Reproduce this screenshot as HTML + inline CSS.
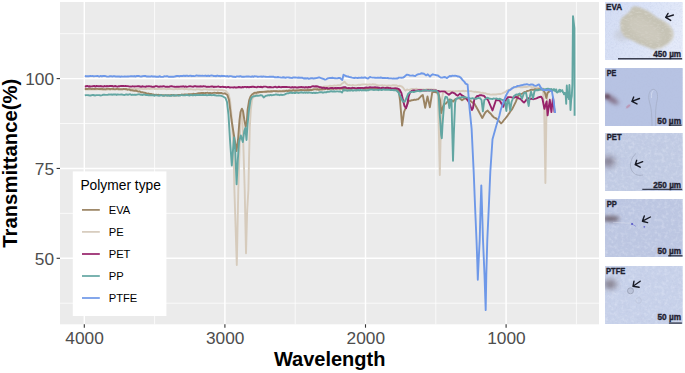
<!DOCTYPE html>
<html><head><meta charset="utf-8"><title>FTIR spectra</title>
<style>
html,body{margin:0;padding:0;background:#fff;width:685px;height:373px;overflow:hidden;}
svg{display:block;position:absolute;left:0;top:0;}
text{font-family:"Liberation Sans",sans-serif;}
.tk{font-size:17.3px;fill:#4d4d4d;}
.ti{font-size:20px;font-weight:bold;fill:#000;}
.lt{font-size:13.8px;fill:#000;}
.li{font-size:11.2px;fill:#000;}
.mic{position:absolute;left:605px;width:77.7px;height:58px;overflow:hidden;}
</style></head><body>
<svg width="685" height="373" viewBox="0 0 685 373">
<rect x="60" y="2" width="539" height="322.3" fill="#ebebeb"/>
<line x1="154.6" y1="2" x2="154.6" y2="324.3" stroke="#fff" stroke-width="0.75"/><line x1="295.2" y1="2" x2="295.2" y2="324.3" stroke="#fff" stroke-width="0.75"/><line x1="435.8" y1="2" x2="435.8" y2="324.3" stroke="#fff" stroke-width="0.75"/><line x1="576.4" y1="2" x2="576.4" y2="324.3" stroke="#fff" stroke-width="0.75"/><line x1="60" y1="33.7" x2="599" y2="33.7" stroke="#fff" stroke-width="0.75"/><line x1="60" y1="123.5" x2="599" y2="123.5" stroke="#fff" stroke-width="0.75"/><line x1="60" y1="213.35" x2="599" y2="213.35" stroke="#fff" stroke-width="0.75"/><line x1="60" y1="303.2" x2="599" y2="303.2" stroke="#fff" stroke-width="0.75"/><line x1="84.3" y1="2" x2="84.3" y2="324.3" stroke="#fff" stroke-width="1.45"/><line x1="224.9" y1="2" x2="224.9" y2="324.3" stroke="#fff" stroke-width="1.45"/><line x1="365.5" y1="2" x2="365.5" y2="324.3" stroke="#fff" stroke-width="1.45"/><line x1="506.1" y1="2" x2="506.1" y2="324.3" stroke="#fff" stroke-width="1.45"/><line x1="60" y1="78.6" x2="599" y2="78.6" stroke="#fff" stroke-width="1.45"/><line x1="60" y1="168.45" x2="599" y2="168.45" stroke="#fff" stroke-width="1.45"/><line x1="60" y1="258.3" x2="599" y2="258.3" stroke="#fff" stroke-width="1.45"/>
<g fill="none" stroke-width="1.9" stroke-linejoin="round" stroke-linecap="butt">
<path d="M84.80,89.60 L85.97,89.47 L87.14,89.33 L88.31,89.71 L89.48,89.28 L90.65,89.63 L91.82,89.50 L92.98,89.26 L94.15,89.61 L95.32,89.25 L96.49,89.55 L97.66,89.27 L98.83,89.29 L100.00,89.60 L101.11,89.53 L102.22,89.82 L103.33,89.26 L104.44,89.32 L105.56,89.61 L106.67,89.84 L107.78,89.54 L108.89,89.39 L110.00,89.81 L111.11,89.09 L112.22,89.69 L113.33,89.24 L114.44,89.11 L115.56,89.08 L116.67,89.20 L117.78,89.57 L118.89,89.07 L120.00,89.30 L121.15,89.32 L122.31,89.33 L123.46,89.09 L124.62,89.18 L125.77,88.78 L126.92,88.73 L128.08,88.81 L129.23,89.13 L130.38,88.90 L131.54,88.77 L132.69,88.94 L133.85,88.80 L135.00,88.80 L136.14,88.65 L137.27,89.02 L138.41,88.95 L139.55,88.61 L140.68,88.86 L141.82,88.82 L142.95,89.09 L144.09,88.97 L145.23,88.64 L146.36,89.16 L147.50,88.51 L148.64,88.74 L149.77,89.00 L150.91,88.54 L152.05,88.79 L153.18,88.45 L154.32,88.93 L155.45,89.00 L156.59,88.86 L157.73,89.09 L158.86,88.66 L160.00,88.80 L161.11,88.97 L162.22,88.91 L163.33,88.92 L164.44,88.84 L165.56,89.16 L166.67,89.25 L167.78,88.92 L168.89,89.08 L170.00,88.64 L171.11,89.15 L172.22,89.13 L173.33,89.41 L174.44,89.30 L175.56,88.91 L176.67,89.00 L177.78,89.24 L178.89,88.77 L180.00,89.12 L181.11,88.92 L182.22,88.90 L183.33,88.87 L184.44,89.43 L185.56,88.97 L186.67,89.07 L187.78,89.20 L188.89,89.59 L190.00,89.01 L191.11,89.31 L192.22,89.40 L193.33,89.67 L194.44,89.65 L195.56,89.70 L196.67,89.27 L197.78,89.40 L198.89,89.37 L200.00,89.50 L201.15,89.82 L202.31,89.89 L203.46,89.30 L204.62,89.35 L205.77,89.41 L206.92,89.44 L208.08,89.65 L209.23,89.75 L210.38,89.53 L211.54,89.35 L212.69,89.69 L213.85,89.68 L215.00,89.80 L216.17,89.88 L217.33,90.21 L218.50,90.04 L219.67,89.95 L220.83,90.06 L222.00,90.00 L223.33,90.47 L224.67,90.33 L226.00,91.00 L227.25,92.80 L228.50,94.00 L230.00,100.00 L232.00,120.00 L233.50,150.00 L234.40,190.00 L236.80,265.00 L238.30,190.00 L239.50,150.00 L240.50,120.00 L241.50,110.00 L242.50,120.00 L243.50,150.00 L244.70,190.00 L246.00,253.20 L247.20,210.00 L248.40,190.00 L249.00,160.00 L249.80,127.00 L250.80,110.00 L252.00,100.00 L254.00,95.00 L255.33,94.55 L256.67,93.95 L258.00,93.00 L259.33,92.79 L260.67,92.05 L262.00,91.70 L263.14,91.59 L264.29,91.34 L265.43,91.72 L266.57,91.25 L267.71,91.23 L268.86,91.31 L270.00,91.50 L271.11,91.19 L272.22,91.27 L273.33,90.99 L274.44,90.90 L275.56,90.96 L276.67,90.86 L277.78,91.01 L278.89,90.69 L280.00,91.00 L281.11,91.20 L282.22,90.91 L283.33,90.47 L284.44,90.46 L285.56,90.44 L286.67,90.36 L287.78,90.09 L288.89,90.55 L290.00,90.20 L291.11,90.53 L292.22,90.09 L293.33,90.05 L294.44,89.71 L295.56,89.68 L296.67,89.81 L297.78,89.71 L298.89,90.09 L300.00,89.80 L301.11,89.49 L302.22,89.33 L303.33,89.98 L304.44,89.60 L305.56,89.25 L306.67,89.50 L307.78,89.05 L308.89,89.38 L310.00,89.30 L311.11,89.52 L312.22,89.29 L313.33,89.02 L314.44,88.54 L315.56,88.48 L316.67,88.18 L317.78,88.50 L318.89,88.17 L320.00,88.00 L321.25,87.84 L322.50,87.12 L323.75,86.66 L325.00,86.50 L326.25,86.54 L327.50,86.47 L328.75,86.17 L330.00,85.70 L331.11,85.91 L332.22,85.90 L333.33,85.82 L334.44,85.40 L335.56,85.60 L336.67,85.46 L337.78,85.19 L338.89,85.16 L340.00,85.50 L341.50,84.08 L343.00,83.00 L344.50,81.70 L346.00,83.50 L348.00,85.00 L349.20,84.82 L350.40,85.15 L351.60,85.35 L352.80,84.96 L354.00,85.33 L355.20,85.37 L356.40,85.35 L357.60,84.90 L358.80,84.79 L360.00,85.00 L361.25,84.64 L362.50,84.47 L363.75,84.33 L365.00,84.40 L366.11,84.49 L367.22,84.70 L368.33,84.66 L369.44,84.38 L370.56,84.52 L371.67,84.63 L372.78,84.08 L373.89,84.52 L375.00,84.40 L376.25,84.96 L377.50,85.11 L378.75,85.34 L380.00,85.40 L381.15,85.39 L382.31,85.17 L383.46,85.64 L384.62,85.30 L385.77,85.67 L386.92,85.80 L388.08,85.37 L389.23,85.39 L390.38,85.81 L391.54,85.65 L392.69,85.23 L393.85,85.21 L395.00,85.50 L396.25,85.31 L397.50,85.96 L398.75,85.96 L400.00,85.80 L401.50,86.38 L403.00,87.50 L404.20,89.35 L405.40,90.70 L407.00,89.50 L408.00,89.90 L409.33,89.93 L410.67,89.35 L412.00,88.90 L413.14,88.86 L414.29,89.08 L415.43,88.83 L416.57,88.82 L417.71,89.62 L418.86,89.44 L420.00,89.40 L421.11,89.42 L422.22,89.73 L423.33,89.35 L424.44,89.68 L425.56,89.65 L426.67,89.18 L427.78,89.21 L428.89,89.24 L430.00,89.40 L431.20,89.28 L432.40,89.63 L433.60,89.46 L434.80,89.66 L436.00,89.80 L437.80,95.00 L438.80,130.00 L439.80,175.00 L440.80,130.00 L441.80,100.00 L443.00,93.00 L445.00,91.30 L446.15,91.01 L447.31,91.60 L448.46,91.17 L449.62,91.24 L450.77,91.32 L451.92,91.56 L453.08,91.19 L454.23,91.56 L455.38,91.23 L456.54,91.25 L457.69,91.23 L458.85,90.84 L460.00,91.20 L461.11,91.14 L462.22,90.94 L463.33,90.79 L464.44,91.38 L465.56,90.90 L466.67,91.11 L467.78,91.29 L468.89,91.15 L470.00,91.10 L471.11,91.12 L472.22,91.43 L473.33,91.61 L474.44,91.94 L475.56,91.58 L476.67,92.08 L477.78,92.00 L478.89,92.17 L480.00,92.50 L481.25,92.86 L482.50,92.81 L483.75,93.00 L485.00,93.10 L486.25,93.65 L487.50,94.11 L488.75,94.11 L490.00,94.50 L491.25,94.59 L492.50,94.50 L493.75,94.51 L495.00,94.50 L496.17,94.48 L497.33,94.13 L498.50,94.03 L499.67,93.82 L500.83,94.00 L502.00,93.50 L503.20,92.99 L504.40,92.47 L505.60,91.86 L506.80,90.68 L508.00,90.20 L509.17,89.76 L510.33,89.57 L511.50,89.01 L512.67,87.99 L513.83,87.50 L515.00,87.30 L516.11,87.22 L517.22,86.91 L518.33,87.00 L519.44,86.84 L520.56,87.26 L521.67,87.32 L522.78,87.37 L523.89,86.77 L525.00,87.00 L526.25,87.01 L527.50,86.82 L528.75,86.28 L530.00,86.40 L531.25,86.97 L532.50,87.31 L533.75,87.01 L535.00,87.50 L536.25,87.92 L537.50,87.57 L538.75,87.72 L540.00,87.80 L541.50,88.52 L543.00,88.50 L544.20,110.00 L545.40,183.10 L546.50,110.00 L547.50,92.00 L549.00,90.00 L550.33,90.59 L551.67,90.41 L553.00,91.00" stroke="#d6cbbc"/>
<path d="M84.80,89.00 L85.97,88.95 L87.14,89.01 L88.31,88.88 L89.48,88.77 L90.65,88.86 L91.82,89.17 L92.98,88.63 L94.15,89.04 L95.32,88.95 L96.49,88.63 L97.66,88.87 L98.83,89.09 L100.00,89.00 L101.11,89.01 L102.22,88.68 L103.33,89.39 L104.44,89.24 L105.56,89.39 L106.67,88.73 L107.78,88.86 L108.89,88.69 L110.00,89.26 L111.11,88.88 L112.22,88.78 L113.33,89.01 L114.44,89.38 L115.56,89.32 L116.67,88.90 L117.78,88.82 L118.89,89.41 L120.00,89.10 L121.25,89.18 L122.50,89.30 L123.75,88.86 L125.00,89.20 L126.12,89.03 L127.23,89.68 L128.35,89.64 L129.47,89.54 L130.58,90.37 L131.70,90.20 L133.02,90.50 L134.35,90.83 L135.68,90.48 L137.00,91.00 L138.30,91.60 L139.60,91.32 L140.90,92.25 L142.20,92.30 L143.47,92.55 L144.73,92.74 L146.00,93.19 L147.27,93.76 L148.53,93.54 L149.80,94.00 L151.10,93.97 L152.40,94.52 L153.70,94.55 L155.00,95.00 L156.25,94.75 L157.50,94.84 L158.75,94.81 L160.00,95.20 L161.11,95.00 L162.22,95.10 L163.33,95.12 L164.44,95.49 L165.56,95.15 L166.67,95.33 L167.78,95.11 L168.89,95.26 L170.00,95.40 L171.25,95.03 L172.50,95.21 L173.75,95.03 L175.00,95.40 L176.11,95.48 L177.22,95.24 L178.33,94.86 L179.44,94.98 L180.56,95.23 L181.67,94.50 L182.78,94.94 L183.89,94.55 L185.00,94.50 L186.15,94.40 L187.31,94.57 L188.46,94.14 L189.62,94.14 L190.77,94.18 L191.92,94.31 L193.08,93.73 L194.23,94.01 L195.38,93.83 L196.54,93.68 L197.69,93.41 L198.85,93.28 L200.00,93.30 L201.11,92.93 L202.22,92.95 L203.33,92.87 L204.44,93.35 L205.56,92.95 L206.67,92.84 L207.78,92.75 L208.89,93.29 L210.00,93.00 L211.11,93.28 L212.22,93.13 L213.33,92.83 L214.44,92.80 L215.56,92.84 L216.67,92.97 L217.78,92.74 L218.89,92.96 L220.00,93.00 L221.25,92.90 L222.50,93.50 L223.75,93.58 L225.00,93.30 L226.20,94.19 L227.40,95.00 L229.00,100.00 L231.50,120.00 L234.70,140.00 L236.50,151.00 L238.00,140.00 L239.50,120.00 L240.50,112.00 L241.90,108.70 L243.00,111.00 L244.40,120.00 L245.70,127.00 L246.80,122.00 L247.60,110.00 L249.20,100.00 L250.50,96.50 L252.00,94.50 L253.50,93.41 L255.00,92.70 L256.17,92.94 L257.33,92.32 L258.50,92.24 L259.67,91.85 L260.83,92.03 L262.00,92.00 L263.14,91.92 L264.29,91.89 L265.43,91.60 L266.57,91.78 L267.71,91.34 L268.86,91.48 L270.00,91.60 L271.11,91.25 L272.22,91.46 L273.33,91.15 L274.44,91.10 L275.56,91.28 L276.67,91.20 L277.78,91.43 L278.89,91.36 L280.00,91.30 L281.11,91.42 L282.22,91.29 L283.33,91.26 L284.44,91.32 L285.56,90.88 L286.67,90.77 L287.78,91.20 L288.89,90.50 L290.00,90.70 L291.11,90.81 L292.22,90.70 L293.33,90.19 L294.44,90.73 L295.56,90.72 L296.67,90.46 L297.78,90.49 L298.89,90.49 L300.00,90.20 L301.11,89.89 L302.22,90.15 L303.33,90.10 L304.44,90.32 L305.56,90.26 L306.67,90.25 L307.78,90.03 L308.89,90.23 L310.00,89.90 L311.11,89.99 L312.22,89.96 L313.33,89.56 L314.44,89.37 L315.56,89.40 L316.67,89.53 L317.78,89.29 L318.89,89.80 L320.00,89.50 L321.11,89.47 L322.22,89.44 L323.33,89.36 L324.44,89.33 L325.56,89.10 L326.67,88.66 L327.78,89.18 L328.89,89.07 L330.00,88.80 L331.11,88.79 L332.22,88.80 L333.33,88.89 L334.44,88.43 L335.56,88.92 L336.67,88.55 L337.78,88.40 L338.89,88.53 L340.00,88.87 L341.11,88.46 L342.22,88.86 L343.33,89.03 L344.44,88.65 L345.56,88.56 L346.67,88.62 L347.78,88.76 L348.89,88.81 L350.00,88.60 L351.11,88.69 L352.22,88.71 L353.33,88.28 L354.44,88.33 L355.56,88.41 L356.67,88.78 L357.78,88.45 L358.89,88.65 L360.00,88.23 L361.11,88.27 L362.22,88.42 L363.33,88.73 L364.44,88.75 L365.56,88.73 L366.67,88.44 L367.78,88.61 L368.89,88.57 L370.00,88.60 L371.11,88.59 L372.22,88.34 L373.33,88.95 L374.44,88.44 L375.56,89.05 L376.67,89.03 L377.78,88.35 L378.89,88.70 L380.00,88.99 L381.11,89.12 L382.22,88.74 L383.33,88.62 L384.44,88.60 L385.56,89.17 L386.67,88.63 L387.78,88.93 L388.89,88.61 L390.00,88.90 L391.20,89.04 L392.40,89.48 L393.60,88.98 L394.80,89.62 L396.00,89.50 L397.35,90.26 L398.70,91.00 L400.00,100.00 L401.00,112.00 L402.10,125.60 L403.20,118.00 L404.00,112.00 L406.00,107.20 L408.80,100.70 L410.40,100.74 L412.00,100.20 L413.22,100.15 L414.44,99.60 L415.66,99.90 L416.88,99.39 L418.10,99.20 L420.00,97.40 L421.40,95.84 L422.80,95.00 L425.20,107.70 L427.50,96.40 L429.90,107.20 L432.20,92.70 L433.60,91.97 L435.00,92.00 L436.17,92.33 L437.33,92.63 L438.50,93.00 L440.00,100.00 L441.20,113.00 L442.50,108.00 L444.00,104.00 L446.00,103.50 L448.00,101.00 L449.50,99.50 L451.00,99.80 L453.10,101.60 L455.00,99.50 L456.00,98.80 L457.50,98.40 L459.00,98.30 L460.50,98.98 L462.00,100.20 L463.50,99.13 L465.00,98.30 L466.25,98.71 L467.50,99.66 L468.75,99.57 L470.00,100.50 L471.43,101.72 L472.87,102.82 L474.30,103.60 L478.00,110.00 L482.30,118.00 L485.00,113.00 L486.35,111.46 L487.70,110.50 L488.80,111.99 L489.90,113.00 L491.00,114.00 L492.55,116.06 L494.10,117.50 L495.55,118.14 L497.00,119.10 L498.37,120.44 L499.73,121.89 L501.10,123.40 L502.55,122.08 L504.00,120.00 L505.50,118.27 L507.00,116.40 L508.32,114.42 L509.65,112.60 L510.97,110.60 L512.30,108.90 L516.00,101.40 L517.80,96.40 L518.90,95.36 L520.00,95.00 L521.17,93.90 L522.33,93.65 L523.50,92.60 L524.60,92.04 L525.70,92.13 L526.80,91.21 L527.90,90.82 L529.00,90.61 L530.10,90.20 L531.33,89.71 L532.55,89.60 L533.77,89.80 L535.00,89.20 L536.25,89.49 L537.50,89.44 L538.75,89.30 L540.00,89.20 L541.50,89.66 L543.00,89.50 L545.00,93.00 L546.30,98.00 L547.50,93.00 L548.75,92.08 L550.00,90.50 L551.50,90.79 L553.00,91.00" stroke="#9a8362"/>
<path d="M84.80,86.30 L85.97,86.46 L87.14,85.94 L88.31,86.45 L89.48,86.23 L90.65,86.45 L91.82,86.36 L92.98,86.08 L94.15,85.90 L95.32,86.56 L96.49,85.94 L97.66,86.19 L98.83,86.09 L100.00,86.20 L101.11,86.05 L102.22,86.38 L103.33,86.56 L104.44,86.02 L105.56,86.32 L106.67,86.05 L107.78,86.24 L108.89,86.12 L110.00,85.95 L111.11,85.94 L112.22,85.98 L113.33,86.51 L114.44,86.20 L115.56,85.99 L116.67,86.51 L117.78,86.58 L118.89,86.16 L120.00,86.20 L121.11,85.94 L122.22,86.00 L123.33,85.94 L124.44,86.15 L125.56,85.97 L126.67,86.10 L127.78,86.13 L128.89,86.39 L130.00,86.64 L131.11,86.56 L132.22,86.32 L133.33,86.33 L134.44,86.44 L135.56,86.34 L136.67,86.33 L137.78,86.13 L138.89,86.31 L140.00,86.50 L141.11,86.86 L142.22,86.22 L143.33,86.50 L144.44,86.60 L145.56,86.78 L146.67,86.28 L147.78,86.33 L148.89,86.31 L150.00,86.42 L151.11,86.46 L152.22,86.84 L153.33,86.76 L154.44,86.78 L155.56,86.14 L156.67,86.14 L157.78,86.66 L158.89,86.80 L160.00,86.50 L161.11,86.49 L162.22,86.58 L163.33,86.14 L164.44,86.44 L165.56,86.85 L166.67,86.78 L167.78,86.81 L168.89,86.90 L170.00,86.36 L171.11,86.26 L172.22,86.30 L173.33,86.58 L174.44,86.71 L175.56,86.91 L176.67,86.75 L177.78,86.70 L178.89,86.80 L180.00,86.60 L181.11,86.56 L182.22,86.63 L183.33,86.23 L184.44,86.79 L185.56,86.37 L186.67,86.89 L187.78,86.67 L188.89,86.41 L190.00,86.27 L191.11,86.36 L192.22,86.64 L193.33,86.68 L194.44,86.23 L195.56,86.20 L196.67,86.54 L197.78,86.57 L198.89,86.42 L200.00,86.50 L201.15,86.31 L202.31,86.61 L203.46,86.17 L204.62,86.41 L205.77,86.55 L206.92,86.94 L208.08,86.72 L209.23,86.91 L210.38,86.62 L211.54,86.45 L212.69,86.48 L213.85,87.03 L215.00,86.70 L216.11,86.89 L217.22,86.62 L218.33,86.44 L219.44,86.83 L220.56,87.00 L221.67,86.84 L222.78,86.75 L223.89,87.09 L225.00,87.00 L226.25,87.45 L227.50,87.04 L228.75,87.02 L230.00,87.50 L231.11,87.34 L232.22,87.37 L233.33,87.54 L234.44,87.14 L235.56,87.56 L236.67,87.48 L237.78,87.27 L238.89,87.01 L240.00,87.20 L241.11,87.53 L242.22,87.01 L243.33,87.38 L244.44,86.91 L245.56,86.88 L246.67,87.26 L247.78,86.89 L248.89,87.37 L250.00,87.00 L251.11,87.00 L252.22,86.76 L253.33,86.79 L254.44,86.94 L255.56,87.13 L256.67,87.34 L257.78,86.73 L258.89,86.92 L260.00,87.00 L261.11,86.78 L262.22,87.36 L263.33,86.73 L264.44,86.66 L265.56,86.67 L266.67,86.92 L267.78,87.30 L268.89,87.29 L270.00,87.00 L271.11,87.19 L272.22,87.40 L273.33,87.36 L274.44,86.91 L275.56,86.82 L276.67,87.40 L277.78,87.26 L278.89,86.73 L280.00,87.10 L281.11,87.25 L282.22,87.05 L283.33,87.07 L284.44,87.06 L285.56,86.96 L286.67,86.86 L287.78,87.09 L288.89,87.16 L290.00,87.30 L291.11,87.65 L292.22,87.01 L293.33,87.65 L294.44,87.08 L295.56,87.19 L296.67,87.54 L297.78,87.54 L298.89,87.25 L300.00,87.30 L301.11,86.96 L302.22,87.28 L303.33,87.20 L304.44,87.62 L305.56,87.07 L306.67,87.20 L307.78,87.60 L308.89,86.94 L310.00,87.30 L311.50,86.68 L313.00,86.20 L314.50,86.49 L316.00,86.30 L318.00,86.50 L319.33,87.20 L320.67,87.15 L322.00,88.00 L323.14,87.66 L324.29,87.70 L325.43,88.36 L326.57,87.87 L327.71,88.26 L328.86,88.39 L330.00,88.10 L331.11,87.98 L332.22,87.93 L333.33,88.45 L334.44,88.19 L335.56,87.92 L336.67,88.26 L337.78,87.96 L338.89,87.93 L340.00,88.10 L342.00,87.70 L344.00,87.30 L345.20,87.08 L346.40,87.81 L347.60,88.10 L348.80,88.04 L350.00,88.10 L351.11,88.43 L352.22,87.72 L353.33,87.86 L354.44,88.04 L355.56,88.39 L356.67,88.38 L357.78,87.94 L358.89,87.82 L360.00,88.00 L361.25,87.87 L362.50,87.85 L363.75,88.10 L365.00,87.70 L366.25,87.33 L367.50,87.68 L368.75,87.51 L370.00,87.20 L371.25,87.47 L372.50,87.46 L373.75,87.36 L375.00,87.30 L376.25,87.34 L377.50,87.51 L378.75,87.72 L380.00,88.00 L381.15,88.23 L382.31,87.71 L383.46,87.82 L384.62,88.25 L385.77,87.88 L386.92,87.76 L388.08,87.75 L389.23,88.16 L390.38,88.01 L391.54,88.52 L392.69,88.46 L393.85,88.56 L395.00,88.20 L397.20,88.50 L398.35,88.82 L399.50,89.50 L401.40,93.00 L403.00,100.00 L404.50,106.00 L406.10,108.20 L407.40,104.00 L408.50,97.00 L410.00,92.50 L412.00,90.80 L413.14,90.41 L414.29,90.35 L415.43,90.58 L416.57,90.67 L417.71,90.40 L418.86,90.17 L420.00,90.30 L421.15,90.24 L422.31,90.41 L423.46,90.46 L424.62,90.52 L425.77,90.60 L426.92,90.47 L428.08,90.07 L429.23,90.62 L430.38,90.21 L431.54,90.43 L432.69,90.29 L433.85,90.57 L435.00,90.40 L437.00,90.80 L438.50,90.97 L440.00,91.60 L441.25,91.41 L442.50,91.41 L443.75,91.34 L445.00,91.60 L446.30,92.96 L447.60,93.79 L448.90,94.80 L450.50,93.47 L452.10,92.40 L453.55,92.92 L455.00,93.60 L456.35,95.02 L457.70,95.70 L458.85,94.66 L460.00,93.60 L462.00,95.50 L463.33,96.06 L464.67,97.27 L466.00,97.80 L469.10,102.50 L471.90,110.00 L473.00,108.00 L474.30,99.30 L475.65,97.77 L477.00,96.00 L478.50,95.97 L480.00,95.20 L481.33,95.10 L482.67,95.58 L484.00,95.80 L485.33,97.44 L486.67,98.86 L488.00,100.00 L492.50,110.50 L496.30,99.30 L497.53,100.18 L498.77,100.08 L500.00,101.00 L503.20,106.80 L506.00,100.00 L508.00,97.10 L509.25,97.12 L510.50,97.16 L511.75,97.39 L513.00,97.80 L514.50,97.66 L516.00,96.80 L517.33,97.50 L518.67,98.39 L520.00,98.70 L521.33,99.87 L522.67,101.51 L524.00,102.50 L525.33,101.03 L526.67,99.45 L528.00,98.20 L529.25,98.66 L530.50,99.04 L531.75,98.65 L533.00,99.20 L534.33,98.94 L535.67,98.62 L537.00,98.20 L538.40,97.45 L539.80,97.03 L541.20,96.60 L542.50,99.00 L544.40,108.90 L546.60,101.40 L547.60,115.40 L549.80,99.80 L551.40,112.10 L553.00,97.70 L554.60,112.70" stroke="#97226a"/>
<path d="M84.80,95.40 L85.97,95.12 L87.14,95.16 L88.31,95.19 L89.48,95.44 L90.65,95.48 L91.82,95.13 L92.98,94.97 L94.15,95.21 L95.32,95.47 L96.49,95.08 L97.66,95.17 L98.83,95.08 L100.00,95.30 L101.11,95.45 L102.22,95.18 L103.33,94.73 L104.44,94.69 L105.56,94.83 L106.67,94.87 L107.78,94.86 L108.89,94.37 L110.00,94.60 L111.11,94.34 L112.22,94.75 L113.33,94.53 L114.44,94.44 L115.56,94.45 L116.67,94.94 L117.78,94.46 L118.89,94.65 L120.00,94.60 L121.14,94.50 L122.27,94.55 L123.41,94.89 L124.55,95.00 L125.68,94.52 L126.82,94.40 L127.95,94.81 L129.09,94.41 L130.23,94.27 L131.36,94.95 L132.50,94.59 L133.64,94.90 L134.77,94.59 L135.91,94.95 L137.05,94.64 L138.18,94.42 L139.32,94.31 L140.45,94.72 L141.59,94.79 L142.73,95.00 L143.86,94.38 L145.00,94.70 L146.25,94.97 L147.50,94.95 L148.75,95.23 L150.00,95.40 L151.14,95.14 L152.27,95.24 L153.41,95.43 L154.55,95.74 L155.68,95.13 L156.82,95.42 L157.95,95.66 L159.09,95.79 L160.23,95.21 L161.36,95.16 L162.50,95.79 L163.64,95.82 L164.77,95.45 L165.91,95.12 L167.05,95.79 L168.18,95.39 L169.32,95.78 L170.45,95.57 L171.59,95.73 L172.73,95.23 L173.86,95.71 L175.00,95.50 L176.14,95.27 L177.27,95.38 L178.41,95.70 L179.55,95.66 L180.68,95.15 L181.82,95.15 L182.95,95.26 L184.09,95.33 L185.23,95.21 L186.36,94.99 L187.50,95.06 L188.64,95.40 L189.77,95.51 L190.91,94.83 L192.05,95.21 L193.18,95.33 L194.32,94.76 L195.45,95.35 L196.59,94.78 L197.73,95.12 L198.86,95.06 L200.00,95.00 L201.15,95.11 L202.31,94.88 L203.46,94.99 L204.62,95.12 L205.77,95.02 L206.92,95.21 L208.08,95.07 L209.23,95.08 L210.38,94.78 L211.54,95.24 L212.69,95.16 L213.85,94.98 L215.00,95.20 L216.25,95.50 L217.50,95.61 L218.75,95.47 L220.00,95.60 L221.50,95.81 L223.00,96.50 L224.25,97.23 L225.50,98.00 L227.00,102.00 L228.50,115.00 L230.00,140.00 L231.80,165.50 L233.00,150.00 L234.10,137.40 L235.20,150.00 L236.60,184.30 L237.80,160.00 L239.00,142.00 L240.80,135.40 L242.80,142.00 L244.30,131.00 L245.30,128.00 L246.50,140.00 L247.50,125.00 L249.00,110.00 L250.50,100.00 L252.00,97.00 L253.50,96.30 L255.00,96.20 L256.50,95.72 L258.00,95.80 L259.33,95.61 L260.67,95.22 L262.00,95.40 L263.70,97.40 L264.85,96.51 L266.00,95.70 L267.12,95.58 L268.25,95.10 L269.38,95.43 L270.50,94.88 L271.62,95.25 L272.75,95.16 L273.88,94.83 L275.00,94.70 L276.17,94.41 L277.33,94.80 L278.50,94.76 L279.67,95.24 L280.83,94.67 L282.00,95.00 L283.25,94.87 L284.50,94.58 L285.75,93.98 L287.00,93.40 L288.50,93.29 L290.00,92.70 L291.11,92.46 L292.22,93.04 L293.33,92.66 L294.44,93.00 L295.56,92.96 L296.67,92.38 L297.78,92.84 L298.89,92.94 L300.00,92.60 L301.11,92.27 L302.22,92.49 L303.33,92.79 L304.44,92.34 L305.56,92.90 L306.67,92.43 L307.78,92.84 L308.89,92.33 L310.00,92.60 L311.25,92.70 L312.50,93.12 L313.75,92.68 L315.00,93.00 L316.11,92.73 L317.22,92.83 L318.33,92.60 L319.44,92.29 L320.56,92.31 L321.67,92.21 L322.78,92.71 L323.89,92.43 L325.00,92.20 L326.25,92.33 L327.50,91.60 L328.75,91.89 L330.00,91.50 L331.11,91.19 L332.22,91.48 L333.33,91.54 L334.44,91.30 L335.56,91.67 L336.67,91.41 L337.78,91.41 L338.89,91.61 L340.00,91.30 L342.00,92.50 L343.50,90.00 L345.00,90.50 L346.11,90.18 L347.22,90.84 L348.33,90.55 L349.44,90.35 L350.56,90.64 L351.67,90.22 L352.78,90.76 L353.89,90.43 L355.00,90.24 L356.11,90.53 L357.22,90.27 L358.33,90.05 L359.44,90.47 L360.56,89.92 L361.67,90.49 L362.78,90.05 L363.89,90.32 L365.00,90.20 L366.11,90.53 L367.22,90.20 L368.33,90.22 L369.44,89.92 L370.56,89.65 L371.67,89.65 L372.78,89.70 L373.89,90.02 L375.00,89.90 L376.11,89.85 L377.22,89.91 L378.33,90.20 L379.44,89.62 L380.56,89.69 L381.67,90.02 L382.78,89.54 L383.89,89.52 L385.00,89.90 L386.11,89.82 L387.22,89.67 L388.33,89.89 L389.44,89.82 L390.56,90.13 L391.67,90.17 L392.78,89.91 L393.89,90.26 L395.00,90.20 L396.50,90.60 L398.50,92.50 L400.70,97.00 L402.80,101.50 L404.80,101.50 L406.50,98.00 L408.00,94.00 L410.00,92.30 L411.25,92.11 L412.50,91.67 L413.75,92.11 L415.00,91.60 L416.11,91.28 L417.22,91.09 L418.33,90.93 L419.44,91.22 L420.56,91.27 L421.67,91.08 L422.78,90.67 L423.89,90.44 L425.00,90.50 L426.11,90.14 L427.22,90.63 L428.33,90.58 L429.44,90.43 L430.56,90.67 L431.67,90.52 L432.78,90.91 L433.89,90.77 L435.00,90.60 L436.25,90.86 L437.50,91.50 L438.70,96.00 L439.80,115.00 L441.20,135.00 L441.80,138.20 L442.50,125.00 L443.50,111.40 L444.50,100.00 L445.50,96.80 L447.00,97.20 L448.30,101.00 L449.40,108.00 L450.50,100.00 L451.50,100.00 L452.20,130.00 L453.00,160.70 L453.80,135.00 L455.10,102.90 L456.00,99.00 L458.00,98.20 L459.70,97.40 L461.02,97.66 L462.35,96.95 L463.68,97.27 L465.00,97.20 L466.25,97.43 L467.50,97.60 L468.75,97.76 L470.00,98.40 L471.25,98.66 L472.50,98.13 L473.75,98.59 L475.00,98.60 L476.25,98.84 L477.50,98.13 L478.75,98.07 L480.00,98.20 L481.50,100.00 L482.90,111.30 L484.30,100.00 L485.65,98.93 L487.00,97.70 L488.50,98.26 L490.00,98.80 L491.11,98.91 L492.22,99.04 L493.33,98.55 L494.44,98.66 L495.56,98.65 L496.67,98.46 L497.78,99.10 L498.89,99.02 L500.00,98.80 L501.50,99.56 L503.00,100.00 L505.00,102.00 L506.40,111.00 L507.50,100.00 L508.50,99.30 L510.20,110.30 L511.50,102.00 L514.00,96.00 L515.00,95.40 L516.17,94.55 L517.35,94.71 L518.53,94.16 L519.70,93.50 L522.00,98.70 L524.00,93.00 L526.00,92.60 L528.70,106.00 L530.00,96.00 L531.00,91.60 L533.00,98.50 L534.50,91.00 L536.00,90.20 L537.12,90.07 L538.25,90.18 L539.38,89.86 L540.50,89.59 L541.62,89.40 L542.75,89.40 L543.88,89.15 L545.00,89.40 L546.50,88.90 L548.00,88.65 L548.55,88.91 L549.10,89.51 L549.65,89.06 L550.20,89.26 L550.75,89.53 L551.30,88.96 L551.85,89.69 L552.40,90.07 L552.95,90.58 L553.50,89.12 L554.05,89.73 L554.60,89.28 L555.15,91.34 L555.70,91.18 L556.25,89.38 L556.80,92.42 L557.35,92.56 L557.90,91.70 L558.45,91.72 L559.00,90.19 L559.55,89.73 L560.10,91.84 L560.65,90.06 L561.20,90.69 L561.75,91.01 L562.30,90.16 L562.85,92.25 L563.40,92.27 L563.95,94.37 L564.50,92.92 L565.05,93.69 L565.60,93.10 L566.20,103.70 L566.80,85.50 L567.50,97.00 L568.20,93.00 L568.80,99.00 L569.40,85.00 L570.00,97.00 L570.50,110.00 L571.20,99.40 L571.80,96.00 L572.40,84.00 L573.00,16.20 L574.40,28.00 L574.60,115.70" stroke="#62a6a2"/>
<path d="M84.80,76.00 L85.93,76.20 L87.07,76.17 L88.20,76.30 L89.33,76.21 L90.47,75.88 L91.60,76.11 L92.73,76.03 L93.87,76.31 L95.00,76.10 L96.15,76.13 L97.31,75.95 L98.46,76.25 L99.62,76.52 L100.77,75.96 L101.92,76.48 L103.08,75.84 L104.23,76.04 L105.38,76.04 L106.54,76.44 L107.69,76.61 L108.85,76.47 L110.00,76.30 L111.15,76.18 L112.31,76.60 L113.46,76.19 L114.62,76.13 L115.77,76.65 L116.92,76.45 L118.08,76.50 L119.23,76.49 L120.38,76.73 L121.54,76.35 L122.69,76.64 L123.85,76.54 L125.00,76.40 L126.15,76.66 L127.31,76.34 L128.46,76.55 L129.62,76.42 L130.77,76.22 L131.92,76.13 L133.08,76.44 L134.23,76.02 L135.38,76.64 L136.54,76.05 L137.69,75.96 L138.85,76.01 L140.00,76.30 L141.15,76.64 L142.31,76.21 L143.46,76.07 L144.62,76.00 L145.77,76.03 L146.92,76.54 L148.08,76.51 L149.23,76.57 L150.38,76.62 L151.54,76.12 L152.69,76.54 L153.85,76.38 L155.00,76.50 L156.15,76.75 L157.31,76.76 L158.46,76.82 L159.62,76.20 L160.77,76.82 L161.92,76.86 L163.08,76.89 L164.23,76.26 L165.38,76.35 L166.54,76.28 L167.69,76.23 L168.85,76.86 L170.00,76.60 L171.15,76.79 L172.31,76.61 L173.46,76.71 L174.62,76.52 L175.77,76.21 L176.92,76.02 L178.08,75.97 L179.23,76.43 L180.38,75.96 L181.54,76.00 L182.69,76.03 L183.85,75.68 L185.00,76.00 L186.15,75.79 L187.31,75.79 L188.46,76.09 L189.62,75.81 L190.77,75.75 L191.92,76.21 L193.08,75.84 L194.23,76.08 L195.38,75.88 L196.54,75.41 L197.69,75.68 L198.85,75.67 L200.00,75.70 L201.15,75.92 L202.31,75.61 L203.46,75.90 L204.62,75.79 L205.77,75.56 L206.92,76.07 L208.08,75.50 L209.23,76.07 L210.38,75.59 L211.54,75.47 L212.69,75.64 L213.85,76.08 L215.00,75.90 L216.11,76.29 L217.22,75.57 L218.33,75.96 L219.44,75.98 L220.56,76.24 L221.67,75.79 L222.78,76.05 L223.89,75.96 L225.00,76.10 L226.17,76.40 L227.33,76.02 L228.50,76.59 L229.67,76.14 L230.83,76.13 L232.00,76.40 L233.17,76.75 L234.33,76.80 L235.50,77.00 L236.75,76.40 L238.00,76.40 L239.20,76.52 L240.40,76.12 L241.60,76.68 L242.80,76.63 L244.00,76.72 L245.20,76.62 L246.40,76.43 L247.60,76.48 L248.80,76.50 L250.00,76.60 L251.11,76.90 L252.22,76.29 L253.33,76.90 L254.44,76.24 L255.56,76.38 L256.67,76.42 L257.78,76.90 L258.89,76.60 L260.00,76.60 L261.11,76.52 L262.22,76.91 L263.33,76.43 L264.44,76.61 L265.56,76.68 L266.67,76.86 L267.78,76.87 L268.89,76.80 L270.00,76.70 L271.11,76.66 L272.22,76.72 L273.33,76.67 L274.44,77.27 L275.56,77.21 L276.67,77.35 L277.78,76.99 L278.89,77.28 L280.00,77.40 L281.11,77.64 L282.22,77.53 L283.33,77.22 L284.44,77.50 L285.56,77.86 L286.67,77.40 L287.78,77.40 L288.89,77.52 L290.00,77.70 L291.11,77.87 L292.22,77.98 L293.33,77.47 L294.44,77.48 L295.56,77.56 L296.67,77.63 L297.78,77.79 L298.89,77.53 L300.00,77.80 L301.25,77.79 L302.50,77.81 L303.75,78.54 L305.00,78.30 L306.25,78.52 L307.50,78.10 L308.75,78.80 L310.00,78.50 L311.25,78.12 L312.50,78.26 L313.75,78.64 L315.00,78.20 L316.33,78.12 L317.67,77.78 L319.00,77.30 L320.50,77.85 L322.00,78.50 L323.50,78.82 L325.00,79.60 L326.25,79.30 L327.50,78.50 L328.75,78.18 L330.00,78.00 L331.25,77.97 L332.50,77.75 L333.75,78.07 L335.00,78.20 L336.25,78.37 L337.50,78.25 L338.75,78.05 L340.00,78.00 L341.15,79.10 L342.30,80.00 L343.50,74.80 L345.10,75.57 L346.70,76.40 L348.02,76.43 L349.35,77.08 L350.68,77.23 L352.00,77.60 L353.14,77.83 L354.29,78.00 L355.43,77.68 L356.57,77.83 L357.71,78.00 L358.86,77.80 L360.00,77.90 L361.25,77.54 L362.50,77.77 L363.75,77.74 L365.00,77.30 L366.50,78.16 L368.00,78.60 L370.00,77.00 L371.25,77.33 L372.50,77.62 L373.75,77.66 L375.00,77.70 L376.11,77.83 L377.22,77.71 L378.33,77.62 L379.44,77.89 L380.56,77.51 L381.67,77.77 L382.78,78.07 L383.89,78.04 L385.00,77.90 L386.25,78.12 L387.50,77.96 L388.75,78.22 L390.00,78.40 L391.25,78.42 L392.50,78.59 L393.75,78.48 L395.00,78.60 L396.25,78.48 L397.50,78.43 L398.75,77.61 L400.00,77.60 L401.50,77.72 L403.00,77.60 L404.33,76.81 L405.67,75.52 L407.00,74.60 L408.47,74.93 L409.93,75.63 L411.40,75.60 L412.70,75.38 L414.00,75.90 L415.30,76.00 L416.65,74.89 L418.00,74.30 L419.10,74.15 L420.20,73.90 L421.30,73.20 L422.65,73.51 L424.00,73.80 L426.20,75.40 L427.80,74.30 L430.00,76.50 L431.40,75.10 L432.80,74.30 L434.02,74.63 L435.25,74.88 L436.48,75.29 L437.70,75.40 L438.80,76.14 L439.90,76.97 L441.00,77.60 L442.33,77.65 L443.67,77.22 L445.00,77.00 L447.00,78.10 L448.35,76.98 L449.70,76.00 L451.02,76.27 L452.35,75.63 L453.68,75.92 L455.00,75.70 L456.33,75.88 L457.67,76.43 L459.00,76.50 L460.70,77.60 L462.90,80.30 L464.25,81.66 L465.60,83.60 L467.60,84.70 L469.70,109.80 L471.60,128.60 L473.70,172.00 L475.00,205.00 L476.50,240.00 L477.30,262.00 L477.80,279.70 L478.60,262.00 L479.70,240.00 L480.50,210.00 L481.30,185.40 L482.10,210.00 L483.00,240.00 L484.50,275.00 L485.70,310.10 L486.30,275.00 L487.30,240.00 L488.90,205.00 L490.30,172.00 L492.50,139.30 L496.50,125.00 L499.30,116.00 L500.70,110.00 L502.20,105.50 L503.60,101.50 L505.00,98.00 L506.30,95.00 L508.80,90.50 L510.20,89.97 L511.60,88.59 L513.00,87.80 L514.14,87.08 L515.28,86.87 L516.42,86.58 L517.56,85.91 L518.70,85.90 L519.96,85.56 L521.22,85.28 L522.48,85.21 L523.74,84.67 L525.00,84.50 L526.17,84.32 L527.33,84.29 L528.50,84.68 L529.67,84.83 L530.83,84.52 L532.00,84.50 L533.27,84.75 L534.53,85.66 L535.80,85.90 L536.90,85.35 L538.00,84.75 L539.10,84.50 L541.00,88.00 L543.00,90.20 L544.50,89.92 L546.00,90.20 L547.35,90.11 L548.70,89.60 L550.30,90.69 L551.90,91.30 L553.50,100.00 L555.10,113.00" stroke="#6e98e8"/>
</g>
<line x1="84.3" y1="324.3" x2="84.3" y2="327.7" stroke="#333" stroke-width="1.1"/><line x1="224.9" y1="324.3" x2="224.9" y2="327.7" stroke="#333" stroke-width="1.1"/><line x1="365.5" y1="324.3" x2="365.5" y2="327.7" stroke="#333" stroke-width="1.1"/><line x1="506.1" y1="324.3" x2="506.1" y2="327.7" stroke="#333" stroke-width="1.1"/><line x1="56.6" y1="78.6" x2="60" y2="78.6" stroke="#333" stroke-width="1.1"/><line x1="56.6" y1="168.45" x2="60" y2="168.45" stroke="#333" stroke-width="1.1"/><line x1="56.6" y1="258.3" x2="60" y2="258.3" stroke="#333" stroke-width="1.1"/>
<text x="84.6" y="343.8" text-anchor="middle" class="tk">4000</text><text x="225.20000000000002" y="343.8" text-anchor="middle" class="tk">3000</text><text x="365.8" y="343.8" text-anchor="middle" class="tk">2000</text><text x="506.40000000000003" y="343.8" text-anchor="middle" class="tk">1000</text><text x="54" y="84.8" text-anchor="end" class="tk">100</text><text x="54" y="174.6" text-anchor="end" class="tk">75</text><text x="54" y="264.5" text-anchor="end" class="tk">50</text>
<text x="329.7" y="366" text-anchor="middle" class="ti">Wavelength</text>
<text transform="translate(16.9,163.2) rotate(-90)" text-anchor="middle" class="ti" style="font-size:20.3px">Transmittance(%)</text>
<rect x="72.8" y="171.4" width="93.6" height="144.6" fill="#fff"/><text x="80.4" y="190.3" class="lt">Polymer type</text><line x1="82" y1="209.9" x2="99.8" y2="209.9" stroke="#9a8362" stroke-width="1.7"/><text x="108.7" y="214.1" class="li">EVA</text><line x1="82" y1="231.9" x2="99.8" y2="231.9" stroke="#d6cbbc" stroke-width="1.7"/><text x="108.7" y="236.1" class="li">PE</text><line x1="82" y1="254.0" x2="99.8" y2="254.0" stroke="#97226a" stroke-width="1.7"/><text x="108.7" y="258.2" class="li">PET</text><line x1="82" y1="276.0" x2="99.8" y2="276.0" stroke="#62a6a2" stroke-width="1.7"/><text x="108.7" y="280.2" class="li">PP</text><line x1="82" y1="298.0" x2="99.8" y2="298.0" stroke="#6e98e8" stroke-width="1.7"/><text x="108.7" y="302.2" class="li">PTFE</text>
</svg>
<svg class="mic" style="top:2.0px" width="77.7" height="58" viewBox="0 0 77.7 58"><defs>
<filter id="m0nz" x="0" y="0" width="100%" height="100%"><feTurbulence type="fractalNoise" baseFrequency="0.55" numOctaves="2" seed="3"/>
<feColorMatrix type="matrix" values="0 0 0 0 0.45  0 0 0 0 0.5  0 0 0 0 0.7  0 0 0 -1.1 0.62"/></filter>
<filter id="m0nz2" x="0" y="0" width="100%" height="100%"><feTurbulence type="fractalNoise" baseFrequency="0.12" numOctaves="3" seed="9"/>
<feColorMatrix type="matrix" values="0 0 0 0 0.5  0 0 0 0 0.55  0 0 0 0 0.75  0 0 0 -1.6 0.85"/></filter>
<filter id="m0nzb" x="0" y="0" width="100%" height="100%"><feTurbulence type="fractalNoise" baseFrequency="0.25 0.6" numOctaves="2" seed="5"/>
<feColorMatrix type="matrix" values="0 0 0 0 0.93  0 0 0 0 0.92  0 0 0 0 0.9  0 0 0 -1.4 0.75"/></filter>
<filter id="m0nzw" x="0" y="0" width="100%" height="100%"><feTurbulence type="fractalNoise" baseFrequency="0.3" numOctaves="2" seed="21"/>
<feColorMatrix type="matrix" values="0 0 0 0 0.88  0 0 0 0 0.91  0 0 0 0 1  0 0 0 -1.8 1.0"/></filter>
<filter id="m0b05"><feGaussianBlur stdDeviation="0.45"/></filter>
<filter id="m0b1" x="-50%" y="-50%" width="200%" height="200%"><feGaussianBlur stdDeviation="1"/></filter>
<filter id="m0b2" x="-80%" y="-80%" width="260%" height="260%"><feGaussianBlur stdDeviation="2.2"/></filter>
<filter id="m0b3" x="-80%" y="-80%" width="260%" height="260%"><feGaussianBlur stdDeviation="3"/></filter>
</defs><linearGradient id="m0gE" x1="0" y1="0" x2="1" y2="0.3"><stop offset="0" stop-color="#d3dcf3"/><stop offset="0.6" stop-color="#dce4f7"/><stop offset="1" stop-color="#e4eaf9"/></linearGradient>
<rect width="77.7" height="58" fill="url(#m0gE)"/>
<rect width="77.7" height="58" filter="url(#m0nz)" opacity="0.5"/>
<ellipse cx="18" cy="33" rx="9" ry="6" fill="#c4c8d2" opacity="0.6" filter="url(#m0b2)"/>
<clipPath id="m0cb"><polygon points="28.9,4.3 33.9,5.1 42.6,8.7 52.7,15.9 58.5,18.8 64.3,23.1 67.9,28.2 68.6,33.3 67.2,37.6 62.9,41.9 55.6,46.3 48.4,47.7 41.2,44.8 33.9,41.9 25.2,37.6 19.5,34.7 15.8,28.9 15.1,20.2 16.6,15.9 19.5,13.7 22.4,11.6 25.2,8.7 26.7,5.8"/></clipPath>
<polygon points="28.9,4.3 33.9,5.1 42.6,8.7 52.7,15.9 58.5,18.8 64.3,23.1 67.9,28.2 68.6,33.3 67.2,37.6 62.9,41.9 55.6,46.3 48.4,47.7 41.2,44.8 33.9,41.9 25.2,37.6 19.5,34.7 15.8,28.9 15.1,20.2 16.6,15.9 19.5,13.7 22.4,11.6 25.2,8.7 26.7,5.8" fill="#c6c3b5" filter="url(#m0b1)"/>
<g clip-path="url(#m0cb)"><rect width="77.7" height="58" filter="url(#m0nzb)" opacity="0.45"/></g>
<ellipse cx="40" cy="28" rx="18" ry="9" fill="#d2cec3" opacity="0.55" transform="rotate(32 40 28)" filter="url(#m0b2)"/>
<path d="M60,21 C66,25 69,31 67,38 C64,43 58,46 52,47" fill="none" stroke="#e2e2de" stroke-width="1.4" opacity="0.6" filter="url(#m0b1)"/>
<text x="1.0" y="8.3" font-family="Liberation Sans,sans-serif" font-weight="bold" font-size="8.6" fill="#1e2130" stroke="#1e2130" stroke-width="0.35" textLength="16.2" lengthAdjust="spacingAndGlyphs">EVA</text>
<path d="M68.4,13 L60.7,15.4 M63.1,11.4 L60.7,15.4 L65.7,18.4" fill="none" stroke="#181a24" stroke-width="1.4" stroke-linecap="round" stroke-linejoin="round"/>
<line x1="13" y1="56.8" x2="77.1" y2="56.8" stroke="#3a3f50" stroke-width="1.4"/><text x="76.1" y="55.0" text-anchor="end" font-family="Liberation Sans,sans-serif" font-weight="bold" font-size="8.4" fill="#1e2130" stroke="#1e2130" stroke-width="0.35" textLength="27.8" lengthAdjust="spacingAndGlyphs">450 µm</text></svg>
<svg class="mic" style="top:67.9px" width="77.7" height="58" viewBox="0 0 77.7 58"><defs>
<filter id="m1nz" x="0" y="0" width="100%" height="100%"><feTurbulence type="fractalNoise" baseFrequency="0.55" numOctaves="2" seed="3"/>
<feColorMatrix type="matrix" values="0 0 0 0 0.45  0 0 0 0 0.5  0 0 0 0 0.7  0 0 0 -1.1 0.62"/></filter>
<filter id="m1nz2" x="0" y="0" width="100%" height="100%"><feTurbulence type="fractalNoise" baseFrequency="0.12" numOctaves="3" seed="9"/>
<feColorMatrix type="matrix" values="0 0 0 0 0.5  0 0 0 0 0.55  0 0 0 0 0.75  0 0 0 -1.6 0.85"/></filter>
<filter id="m1nzb" x="0" y="0" width="100%" height="100%"><feTurbulence type="fractalNoise" baseFrequency="0.25 0.6" numOctaves="2" seed="5"/>
<feColorMatrix type="matrix" values="0 0 0 0 0.93  0 0 0 0 0.92  0 0 0 0 0.9  0 0 0 -1.4 0.75"/></filter>
<filter id="m1nzw" x="0" y="0" width="100%" height="100%"><feTurbulence type="fractalNoise" baseFrequency="0.3" numOctaves="2" seed="21"/>
<feColorMatrix type="matrix" values="0 0 0 0 0.88  0 0 0 0 0.91  0 0 0 0 1  0 0 0 -1.8 1.0"/></filter>
<filter id="m1b05"><feGaussianBlur stdDeviation="0.45"/></filter>
<filter id="m1b1" x="-50%" y="-50%" width="200%" height="200%"><feGaussianBlur stdDeviation="1"/></filter>
<filter id="m1b2" x="-80%" y="-80%" width="260%" height="260%"><feGaussianBlur stdDeviation="2.2"/></filter>
<filter id="m1b3" x="-80%" y="-80%" width="260%" height="260%"><feGaussianBlur stdDeviation="3"/></filter>
</defs><rect width="77.7" height="58" fill="#b7c3e3"/>
<rect width="77.7" height="58" filter="url(#m1nz)" opacity="0.45"/>
<ellipse cx="6" cy="31" rx="9" ry="2.6" fill="#6a4a5c" opacity="0.8" transform="rotate(33 6 31)" filter="url(#m1b2)"/>
<ellipse cx="2" cy="28.5" rx="3" ry="2.5" fill="#5a3a4c" opacity="0.6" filter="url(#m1b1)"/>
<path d="M47,58 C47,48 46.5,40 44.5,34 C42.8,28.5 44,22 48,21.3 C52,21 53.5,27 52,33 C50.5,39 50.3,48 50.8,58" fill="none" stroke="#a4aec8" stroke-width="0.8" filter="url(#m1b05)"/>
<path d="M46.5,30 C46,26 47,23 48.5,22.5" fill="none" stroke="#d4dcef" stroke-width="0.8" filter="url(#m1b05)"/>
<ellipse cx="23.2" cy="38.4" rx="2.8" ry="1.1" fill="#bc8aa8" opacity="0.85" transform="rotate(-40 23.2 38.4)" filter="url(#m1b05)"/>
<text x="1.8" y="8.1" font-family="Liberation Sans,sans-serif" font-weight="bold" font-size="8.6" fill="#1e2130" stroke="#1e2130" stroke-width="0.35" textLength="9.6" lengthAdjust="spacingAndGlyphs">PE</text>
<path d="M34.5,30.5 L26.9,33.4 M28.7,29.1 L26.9,33.4 L32,35.9" fill="none" stroke="#181a24" stroke-width="1.4" stroke-linecap="round" stroke-linejoin="round"/>
<line x1="63.9" y1="57.2" x2="76.6" y2="57.2" stroke="#3a3f50" stroke-width="1.4"/><text x="76.1" y="55.7" text-anchor="end" font-family="Liberation Sans,sans-serif" font-weight="bold" font-size="8.4" fill="#1e2130" stroke="#1e2130" stroke-width="0.35" textLength="23.8" lengthAdjust="spacingAndGlyphs">50 µm</text></svg>
<svg class="mic" style="top:133.1px" width="77.7" height="58" viewBox="0 0 77.7 58"><defs>
<filter id="m2nz" x="0" y="0" width="100%" height="100%"><feTurbulence type="fractalNoise" baseFrequency="0.55" numOctaves="2" seed="3"/>
<feColorMatrix type="matrix" values="0 0 0 0 0.45  0 0 0 0 0.5  0 0 0 0 0.7  0 0 0 -1.1 0.62"/></filter>
<filter id="m2nz2" x="0" y="0" width="100%" height="100%"><feTurbulence type="fractalNoise" baseFrequency="0.12" numOctaves="3" seed="9"/>
<feColorMatrix type="matrix" values="0 0 0 0 0.5  0 0 0 0 0.55  0 0 0 0 0.75  0 0 0 -1.6 0.85"/></filter>
<filter id="m2nzb" x="0" y="0" width="100%" height="100%"><feTurbulence type="fractalNoise" baseFrequency="0.25 0.6" numOctaves="2" seed="5"/>
<feColorMatrix type="matrix" values="0 0 0 0 0.93  0 0 0 0 0.92  0 0 0 0 0.9  0 0 0 -1.4 0.75"/></filter>
<filter id="m2nzw" x="0" y="0" width="100%" height="100%"><feTurbulence type="fractalNoise" baseFrequency="0.3" numOctaves="2" seed="21"/>
<feColorMatrix type="matrix" values="0 0 0 0 0.88  0 0 0 0 0.91  0 0 0 0 1  0 0 0 -1.8 1.0"/></filter>
<filter id="m2b05"><feGaussianBlur stdDeviation="0.45"/></filter>
<filter id="m2b1" x="-50%" y="-50%" width="200%" height="200%"><feGaussianBlur stdDeviation="1"/></filter>
<filter id="m2b2" x="-80%" y="-80%" width="260%" height="260%"><feGaussianBlur stdDeviation="2.2"/></filter>
<filter id="m2b3" x="-80%" y="-80%" width="260%" height="260%"><feGaussianBlur stdDeviation="3"/></filter>
</defs><rect width="77.7" height="58" fill="#c2cce4"/>
<rect width="77.7" height="58" filter="url(#m2nzw)" opacity="0.4"/>
<rect width="77.7" height="58" filter="url(#m2nz2)" opacity="0.5"/>
<rect width="77.7" height="58" filter="url(#m2nz)" opacity="0.4"/>
<ellipse cx="3.5" cy="28.7" rx="6.5" ry="5" fill="#6a5e6e" opacity="0.75" filter="url(#m2b3)"/>
<path d="M31,20.5 C25.5,25 24,33 27,38 C29.5,42 34,43 38,42" fill="none" stroke="#98a0b6" stroke-width="0.6" filter="url(#m2b05)"/>
<text x="1.8" y="7.0" font-family="Liberation Sans,sans-serif" font-weight="bold" font-size="8.6" fill="#1e2130" stroke="#1e2130" stroke-width="0.35" textLength="14.7" lengthAdjust="spacingAndGlyphs">PET</text>
<path d="M37.7,28.7 L30.2,31.7 M31.7,27.3 L30.2,31.7 L35.2,34.2" fill="none" stroke="#181a24" stroke-width="1.4" stroke-linecap="round" stroke-linejoin="round"/>
<line x1="37.3" y1="56.4" x2="77.2" y2="56.4" stroke="#3a3f50" stroke-width="1.4"/><text x="76.1" y="54.7" text-anchor="end" font-family="Liberation Sans,sans-serif" font-weight="bold" font-size="8.4" fill="#1e2130" stroke="#1e2130" stroke-width="0.35" textLength="27.8" lengthAdjust="spacingAndGlyphs">250 µm</text></svg>
<svg class="mic" style="top:199.2px" width="77.7" height="58" viewBox="0 0 77.7 58"><defs>
<filter id="m3nz" x="0" y="0" width="100%" height="100%"><feTurbulence type="fractalNoise" baseFrequency="0.55" numOctaves="2" seed="3"/>
<feColorMatrix type="matrix" values="0 0 0 0 0.45  0 0 0 0 0.5  0 0 0 0 0.7  0 0 0 -1.1 0.62"/></filter>
<filter id="m3nz2" x="0" y="0" width="100%" height="100%"><feTurbulence type="fractalNoise" baseFrequency="0.12" numOctaves="3" seed="9"/>
<feColorMatrix type="matrix" values="0 0 0 0 0.5  0 0 0 0 0.55  0 0 0 0 0.75  0 0 0 -1.6 0.85"/></filter>
<filter id="m3nzb" x="0" y="0" width="100%" height="100%"><feTurbulence type="fractalNoise" baseFrequency="0.25 0.6" numOctaves="2" seed="5"/>
<feColorMatrix type="matrix" values="0 0 0 0 0.93  0 0 0 0 0.92  0 0 0 0 0.9  0 0 0 -1.4 0.75"/></filter>
<filter id="m3nzw" x="0" y="0" width="100%" height="100%"><feTurbulence type="fractalNoise" baseFrequency="0.3" numOctaves="2" seed="21"/>
<feColorMatrix type="matrix" values="0 0 0 0 0.88  0 0 0 0 0.91  0 0 0 0 1  0 0 0 -1.8 1.0"/></filter>
<filter id="m3b05"><feGaussianBlur stdDeviation="0.45"/></filter>
<filter id="m3b1" x="-50%" y="-50%" width="200%" height="200%"><feGaussianBlur stdDeviation="1"/></filter>
<filter id="m3b2" x="-80%" y="-80%" width="260%" height="260%"><feGaussianBlur stdDeviation="2.2"/></filter>
<filter id="m3b3" x="-80%" y="-80%" width="260%" height="260%"><feGaussianBlur stdDeviation="3"/></filter>
</defs><rect width="77.7" height="58" fill="#bdc7e2"/>
<rect width="77.7" height="58" filter="url(#m3nzw)" opacity="0.4"/>
<rect width="77.7" height="58" filter="url(#m3nz2)" opacity="0.45"/>
<rect width="77.7" height="58" filter="url(#m3nz)" opacity="0.4"/>
<ellipse cx="5.6" cy="19.8" rx="9" ry="2.8" fill="#5e5058" opacity="0.85" filter="url(#m3b2)"/>
<line x1="8" y1="23.2" x2="26" y2="24.4" stroke="#d8dcea" stroke-width="1" opacity="0.5" filter="url(#m3b05)"/>
<circle cx="27.1" cy="25" r="1.1" fill="#5a5ac8" filter="url(#m3b05)"/>
<line x1="27.1" y1="25" x2="30.9" y2="27.4" stroke="#6a6ad0" stroke-width="0.5"/>
<circle cx="39.3" cy="27.8" r="0.9" fill="#6a6ad0" filter="url(#m3b05)"/>
<text x="1.8" y="7.8" font-family="Liberation Sans,sans-serif" font-weight="bold" font-size="8.6" fill="#1e2130" stroke="#1e2130" stroke-width="0.35" textLength="10.1" lengthAdjust="spacingAndGlyphs">PP</text>
<path d="M45.4,18 L37.4,22.2 M39.3,17 L37.4,22.2 L42.6,23.6" fill="none" stroke="#181a24" stroke-width="1.4" stroke-linecap="round" stroke-linejoin="round"/>
<line x1="63.1" y1="56.8" x2="77.5" y2="56.8" stroke="#3a3f50" stroke-width="1.4"/><text x="76.1" y="54.6" text-anchor="end" font-family="Liberation Sans,sans-serif" font-weight="bold" font-size="8.4" fill="#1e2130" stroke="#1e2130" stroke-width="0.35" textLength="23.6" lengthAdjust="spacingAndGlyphs">50 µm</text></svg>
<svg class="mic" style="top:266.0px" width="77.7" height="58" viewBox="0 0 77.7 58"><defs>
<filter id="m4nz" x="0" y="0" width="100%" height="100%"><feTurbulence type="fractalNoise" baseFrequency="0.55" numOctaves="2" seed="3"/>
<feColorMatrix type="matrix" values="0 0 0 0 0.45  0 0 0 0 0.5  0 0 0 0 0.7  0 0 0 -1.1 0.62"/></filter>
<filter id="m4nz2" x="0" y="0" width="100%" height="100%"><feTurbulence type="fractalNoise" baseFrequency="0.12" numOctaves="3" seed="9"/>
<feColorMatrix type="matrix" values="0 0 0 0 0.5  0 0 0 0 0.55  0 0 0 0 0.75  0 0 0 -1.6 0.85"/></filter>
<filter id="m4nzb" x="0" y="0" width="100%" height="100%"><feTurbulence type="fractalNoise" baseFrequency="0.25 0.6" numOctaves="2" seed="5"/>
<feColorMatrix type="matrix" values="0 0 0 0 0.93  0 0 0 0 0.92  0 0 0 0 0.9  0 0 0 -1.4 0.75"/></filter>
<filter id="m4nzw" x="0" y="0" width="100%" height="100%"><feTurbulence type="fractalNoise" baseFrequency="0.3" numOctaves="2" seed="21"/>
<feColorMatrix type="matrix" values="0 0 0 0 0.88  0 0 0 0 0.91  0 0 0 0 1  0 0 0 -1.8 1.0"/></filter>
<filter id="m4b05"><feGaussianBlur stdDeviation="0.45"/></filter>
<filter id="m4b1" x="-50%" y="-50%" width="200%" height="200%"><feGaussianBlur stdDeviation="1"/></filter>
<filter id="m4b2" x="-80%" y="-80%" width="260%" height="260%"><feGaussianBlur stdDeviation="2.2"/></filter>
<filter id="m4b3" x="-80%" y="-80%" width="260%" height="260%"><feGaussianBlur stdDeviation="3"/></filter>
</defs><rect width="77.7" height="58" fill="#c8d2ea"/>
<rect width="77.7" height="58" filter="url(#m4nzw)" opacity="0.4"/>
<rect width="77.7" height="58" filter="url(#m4nz2)" opacity="0.35"/>
<rect width="77.7" height="58" filter="url(#m4nz)" opacity="0.4"/>
<ellipse cx="5.1" cy="18.2" rx="6.5" ry="4.2" fill="#665a64" opacity="0.8" filter="url(#m4b3)"/>
<circle cx="25.5" cy="24.8" r="3" fill="#b8c0d6" stroke="#8a91a6" stroke-width="0.9" opacity="0.75" filter="url(#m4b05)"/>
<circle cx="33.6" cy="34.5" r="2.8" fill="none" stroke="#b4bbcf" stroke-width="0.8" opacity="0.6" filter="url(#m4b05)"/>
<text x="1.0" y="8.5" font-family="Liberation Sans,sans-serif" font-weight="bold" font-size="8.6" fill="#1e2130" stroke="#1e2130" stroke-width="0.35" textLength="19.3" lengthAdjust="spacingAndGlyphs">PTFE</text>
<path d="M35.2,15.2 L28,20.3 M29,15.2 L28,20.3 L34.1,21.3" fill="none" stroke="#181a24" stroke-width="1.4" stroke-linecap="round" stroke-linejoin="round"/>
<line x1="63.9" y1="57.1" x2="76.9" y2="57.1" stroke="#3a3f50" stroke-width="1.4"/><text x="76.1" y="54.1" text-anchor="end" font-family="Liberation Sans,sans-serif" font-weight="bold" font-size="8.4" fill="#1e2130" stroke="#1e2130" stroke-width="0.35" textLength="23.6" lengthAdjust="spacingAndGlyphs">50 µm</text></svg>

</body></html>
